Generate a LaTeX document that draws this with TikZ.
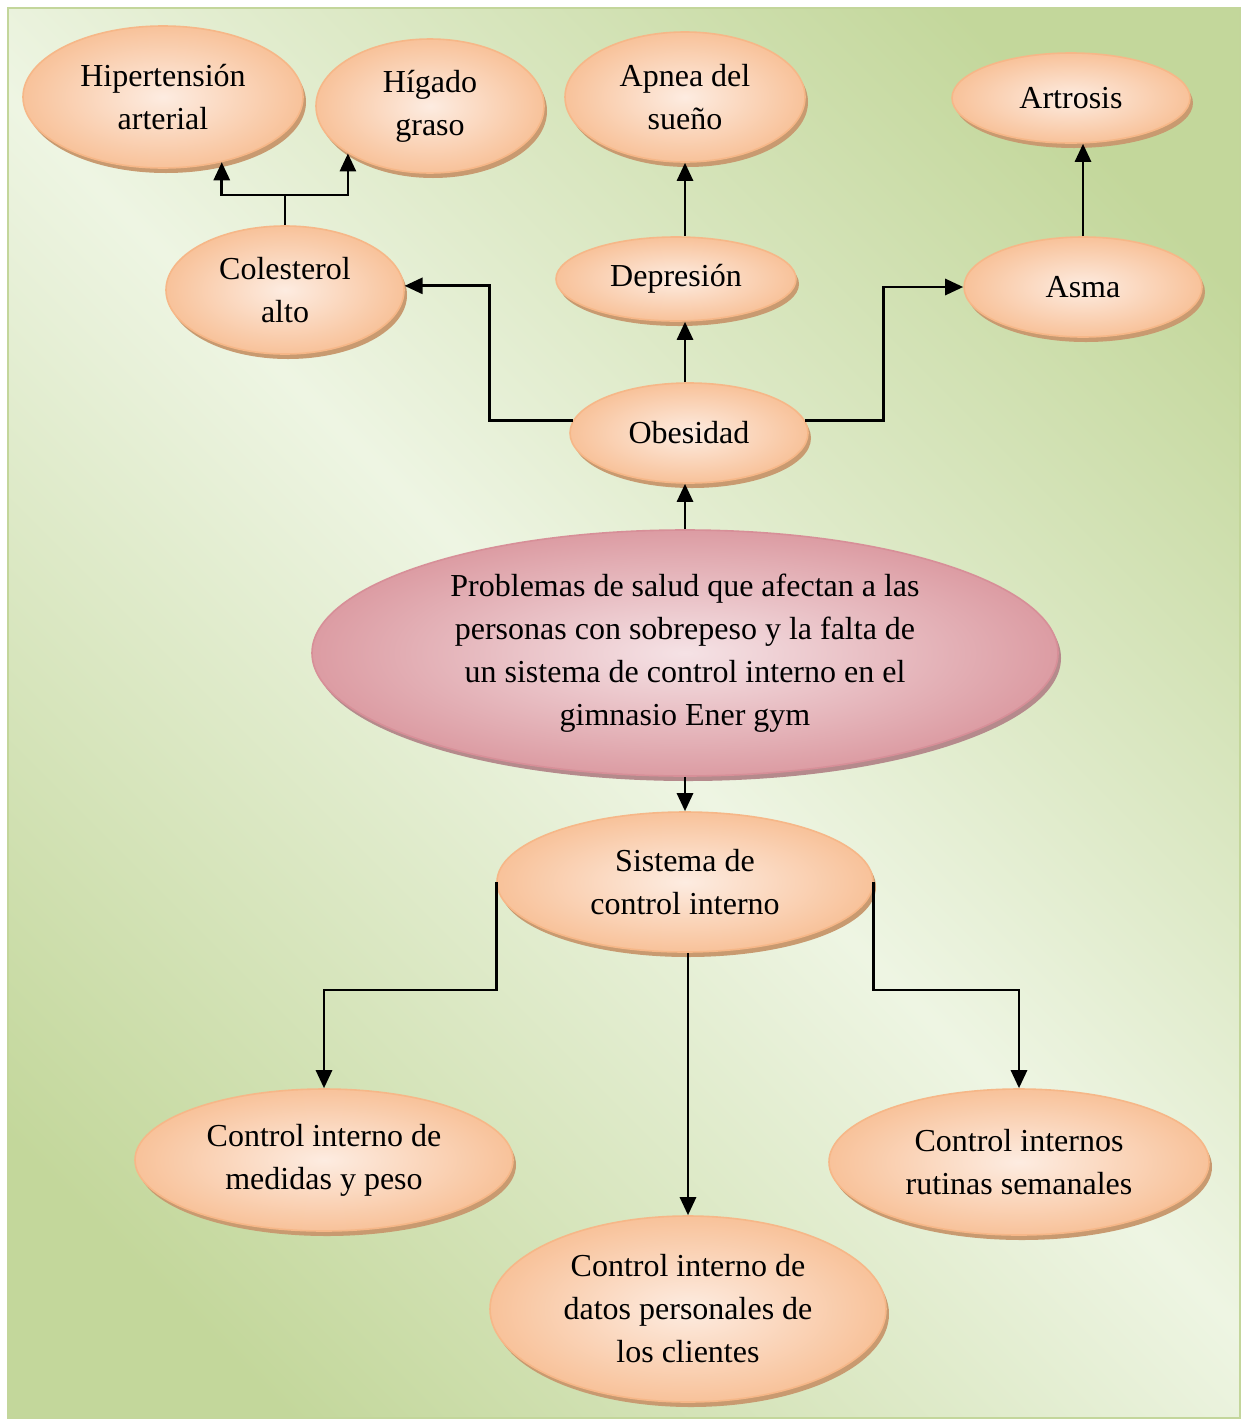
\documentclass[tikz,border=0pt]{standalone}
\usepackage{fontspec}
\setmainfont{Liberation Serif}
\usetikzlibrary{shapes.geometric,shadows,arrows.meta}
\definecolor{fondoclaro}{HTML}{EEF5E3}
\definecolor{fondoverde}{HTML}{C3D79B}
\definecolor{marco}{HTML}{C3D69B}
\definecolor{naranjaclaro}{HTML}{FDECE1}
\definecolor{naranja}{HTML}{F8C29A}
\definecolor{bordenaranja}{HTML}{F6B788}
\definecolor{sombranaranja}{HTML}{C89A70}
\definecolor{rosaclaro}{HTML}{F5E2E5}
\definecolor{rosa}{HTML}{DC9CA3}
\definecolor{borderosa}{HTML}{D78F98}
\definecolor{sombrarosa}{HTML}{B58A8C}
\pgfdeclarehorizontalshading{fondo}{100bp}{color(0bp)=(fondoverde); color(22bp)=(fondoverde); color(50bp)=(fondoclaro); color(78bp)=(fondoverde); color(100bp)=(fondoverde)}
\begin{document}
\begin{tikzpicture}[x=0.5pt,y=-0.5pt,
    font=\fontsize{16}{21.5}\selectfont,
    elipse/.style={ellipse,inner sep=0pt,align=center,line width=0.8pt},
    efecto/.style={elipse,draw=bordenaranja,inner color=naranjaclaro,outer color=naranja,
      drop shadow={shadow xshift=1.5pt,shadow yshift=-2.5pt,fill=sombranaranja,opacity=1}},
    problema/.style={elipse,draw=borderosa,inner color=rosaclaro,outer color=rosa,
      drop shadow={shadow xshift=1.5pt,shadow yshift=-2.5pt,fill=sombrarosa,opacity=1}},
    flecha/.style={-{Triangle[width=8pt,length=9pt]},line width=1.4pt},
    linea/.style={line width=1.4pt}]
  \useasboundingbox (0,0) rectangle (1241,1419);
  \shade[shading=fondo,shading angle=45] (8,8) rectangle (1240,1418);
  \draw[marco,line width=1pt] (8,8) rectangle (1240,1418);

  % causas y efectos
  \node (hipertension) at (163,97)  [efecto,minimum width=140pt,minimum height=71pt] {Hipertensión\\arterial};
  \node (higado)       at (430,106) [efecto,minimum width=114pt,minimum height=67pt] {Hígado\\graso};
  \node (apnea)        at (685,97)  [efecto,minimum width=120pt,minimum height=65pt] {Apnea del\\sueño};
  \node (artrosis)     at (1071,98) [efecto,minimum width=119pt,minimum height=45pt] {Artrosis};
  \node (colesterol)   at (285,290) [efecto,minimum width=119pt,minimum height=64pt] {Colesterol\\alto};
  \node (depresion)    at (676,279) [efecto,minimum width=120pt,minimum height=42pt] {Depresión};
  \node (asma)         at (1083,287) [efecto,minimum width=119pt,minimum height=50pt] {Asma};
  \node (obesidad)     at (689,433) [efecto,minimum width=119pt,minimum height=50pt] {Obesidad};
  \node (problemas)    at (685,653) [problema,minimum width=373pt,minimum height=123pt]
    {Problemas de salud que afectan a las\\personas con sobrepeso y la falta de\\un sistema de control interno en el\\gimnasio Ener gym};
  \node (sistema)      at (685,882) [efecto,minimum width=188pt,minimum height=70pt] {Sistema de\\control interno};
  \node (medidas)      at (324,1160) [efecto,minimum width=189pt,minimum height=71pt] {Control interno de\\medidas y peso};
  \node (datos)        at (688,1309) [efecto,minimum width=198pt,minimum height=93pt] {Control interno de\\datos personales de\\los clientes};
  \node (rutinas)      at (1019,1162) [efecto,minimum width=190pt,minimum height=73pt] {Control internos\\rutinas semanales};

  % conectores
  \coordinate (bifurca) at (285,195);
  \draw[linea] (colesterol.north) -- (bifurca);
  \draw[flecha] (bifurca) -| (hipertension.-48);
  \draw[flecha] (bifurca) -| (higado.-150);
  \draw[flecha] (obesidad.174) -- ++(-83,0) |- (colesterol.2);
  \draw[flecha] (obesidad.6) -- ++(78,0) |- (asma.west);
  \draw[flecha] (problemas.north) -- (problemas.north |- obesidad.south);
  \draw[flecha] (problemas.north |- obesidad.north) -- (problemas.north |- depresion.south);
  \draw[flecha] (problemas.north |- depresion.north) -- (apnea.south);
  \draw[flecha] (asma.north) -- (asma.north |- artrosis.south);
  \draw[flecha] (problemas.south) -- (sistema.north);
  \draw[flecha] (sistema.west) -- ++(0,108) -| (medidas.north);
  \draw[flecha] (sistema.east) -- ++(0,108) -| (rutinas.north);
  \draw[flecha] (sistema.south -| datos.north) -- (datos.north);
\end{tikzpicture}
\end{document}
